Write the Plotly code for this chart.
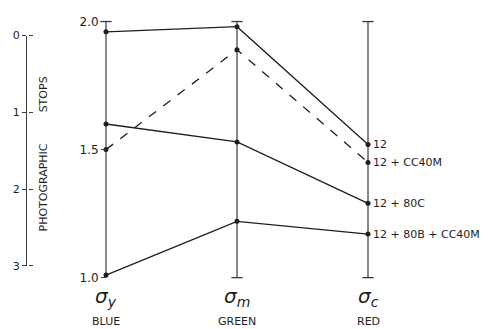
import plotly.graph_objects as go

# ---- data ----
channels = ["BLUE", "GREEN", "RED"]
sigma_labels = ["y", "m", "c"]
x_pos = [0, 1, 2]

s_12 = [1.96, 1.98, 1.52]
s_12_cc40m = [1.50, 1.89, 1.45]
s_12_80c = [1.60, 1.53, 1.29]
s_12_80b_cc40m = [1.01, 1.22, 1.17]
series_names = ["12", "12 + CC40M", "12 + 80C", "12 + 80B + CC40M"]

density_ticks = [1.0, 1.5, 2.0]
density_ticktext = ["1.0", "1.5", "2.0"]
stop_ticks = [0, 1, 2, 3]
axis_span = [1.0, 2.0]

# ---- layout geometry (page body has an 8px margin) ----
OFF = 8
W, H = 480, 321
ML, MR, MT, MB = 0, 100, 0, 20
PW = W - ML - MR
PH = H - MT - MB


def px(xs):  # screenshot x -> paper x
    return (xs - OFF - ML) / PW


def py(ys):  # screenshot y -> paper y
    return (PH + MT - (ys - OFF)) / PH


X0S, X2S = 106, 368          # screenshot x of first/last channel
Y2S, Y1S = 15.7, 277         # screenshot y of 2.0 and 1.0
XR = [-0.05, 2.05]
YR = [0.98, 2.02]
ux = (X2S - X0S) / 2.0
uy = (Y1S - Y2S) / 1.0
xdom = [px(X0S - 0.05 * ux), px(X2S + 0.05 * ux)]
ydom = [py(Y1S + 0.02 * uy), py(Y2S - 0.02 * uy)]

ink = "#1e1e1e"
axc = "#3a3a3a"
font = "DejaVu Sans"

fig = go.Figure()

# vertical channel axes with end caps
for xi in x_pos:
    fig.add_trace(go.Scatter(x=[xi, xi], y=axis_span, mode="lines",
                             line=dict(color=axc, width=1.2), hoverinfo="skip",
                             showlegend=False, cliponaxis=False))
    caps_y = axis_span if xi != 0 else [axis_span[1]]
    fig.add_trace(go.Scatter(x=[xi] * len(caps_y), y=caps_y, mode="markers",
                             marker=dict(symbol="line-ew", size=8,
                                         line=dict(color=axc, width=1.3)),
                             hoverinfo="skip", showlegend=False, cliponaxis=False))

series = [s_12, s_12_cc40m, s_12_80c, s_12_80b_cc40m]
dashes = ["solid", "dash", "solid", "solid"]
for name, vals, dsh in zip(series_names, series, dashes):
    fig.add_trace(go.Scatter(x=x_pos, y=vals, mode="lines+markers", name=name,
                             line=dict(color=ink, width=1.3, dash=dsh),
                             marker=dict(color=ink, size=5),
                             showlegend=False, cliponaxis=False))
    fig.add_annotation(x=x_pos[-1], y=vals[-1], xref="x", yref="y", text=name,
                       showarrow=False, xanchor="left", yanchor="middle", xshift=3,
                       font=dict(family=font, size=11, color=ink))

# invisible traces to materialise the stop axes
fig.add_trace(go.Scatter(x=[None], y=[None], xaxis="x2", yaxis="y2", showlegend=False))
fig.add_trace(go.Scatter(x=[None], y=[None], xaxis="x2", yaxis="y3", showlegend=False))

# channel labels
for xi, sg, ch in zip(x_pos, sigma_labels, channels):
    fig.add_annotation(x=xi, y=py(297), xref="x", yref="paper",
                       xanchor="center", yanchor="middle",
                       text="<i>σ</i><sub><i>" + sg + "</i></sub>", showarrow=False,
                       font=dict(family=font, size=20, color=ink))
    fig.add_annotation(x=xi, y=py(322), xref="x", yref="paper",
                       xanchor="center", yanchor="middle",
                       text=ch, showarrow=False,
                       font=dict(family=font, size=11, color=ink))

# stops title
for txt, ys in [("STOPS", 90), ("PHOTOGRAPHIC", 185)]:
    fig.add_annotation(x=px(43), y=py(ys), xref="paper", yref="paper",
                       xanchor="center", yanchor="middle",
                       text=txt, textangle=-90, showarrow=False,
                       font=dict(family=font, size=11, color=ink))

stop_dom = [py(265), py(30)]
stop_x = px(27)

fig.update_layout(
    width=W, height=H,
    margin=dict(l=ML, r=MR, t=MT, b=MB),
    paper_bgcolor="white", plot_bgcolor="white",
    showlegend=False,
    xaxis=dict(domain=xdom, range=XR, visible=False, anchor="y"),
    yaxis=dict(domain=ydom, range=YR, anchor="free", position=px(X0S),
               tickvals=density_ticks, ticktext=density_ticktext,
               ticks="outside", ticklen=5, tickcolor=axc, tickwidth=1.2,
               showline=False, showgrid=False, zeroline=False,
               tickfont=dict(family=font, size=12, color=ink)),
    xaxis2=dict(domain=[stop_x, stop_x + 0.002], range=[0, 1], visible=False,
                anchor="y2"),
    yaxis2=dict(domain=stop_dom, range=[3, 0], anchor="x2",
                side="left", tickvals=stop_ticks, ticks="outside", ticklen=4,
                tickcolor=axc, tickwidth=1.2, showline=True, linecolor=axc,
                linewidth=1.2, showgrid=False, zeroline=False,
                tickfont=dict(family=font, size=11, color=ink)),
    yaxis3=dict(overlaying="y2", range=[3, 0], anchor="x2",
                side="right", tickvals=stop_ticks, ticks="outside", ticklen=4,
                tickcolor=axc, tickwidth=1.2, showline=False, showgrid=False,
                zeroline=False, showticklabels=False),
)

fig.write_html("out.html")
